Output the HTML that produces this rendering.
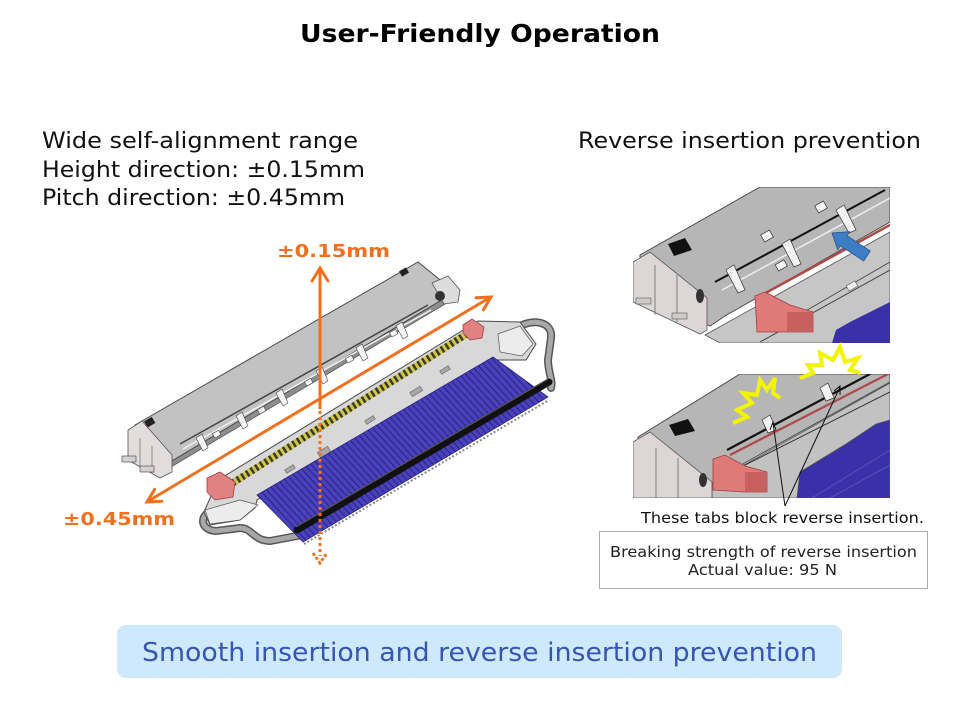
<!DOCTYPE html>
<html>
<head>
<meta charset="utf-8">
<style>
html,body{margin:0;padding:0;background:#fff;}
svg{display:block;}
text{font-family:"DejaVu Sans","Liberation Sans",sans-serif;}
</style>
</head>
<body>
<svg width="960" height="720" viewBox="0 0 960 720" xmlns="http://www.w3.org/2000/svg">
<defs>
  <pattern id="cable" width="5" height="10" patternUnits="userSpaceOnUse" patternTransform="rotate(-42.5)">
    <rect width="5" height="10" fill="#4a42bc"/>
    <rect width="1.2" height="10" fill="#2c258a"/>
  </pattern>
  <clipPath id="c1"><rect x="633" y="187" width="257" height="156"/></clipPath>
  <clipPath id="c2"><rect x="633" y="374" width="257" height="124"/></clipPath>
</defs>

<!-- Title -->
<text x="300" y="42" font-size="25" font-weight="bold" fill="#000" textLength="360" lengthAdjust="spacingAndGlyphs">User-Friendly Operation</text>

<!-- Left text -->
<text x="42" y="148" font-size="22" fill="#111" textLength="316" lengthAdjust="spacingAndGlyphs">Wide self-alignment range</text>
<text x="42" y="177" font-size="22" fill="#111" textLength="323" lengthAdjust="spacingAndGlyphs">Height direction: ±0.15mm</text>
<text x="42" y="205" font-size="22" fill="#111" textLength="303" lengthAdjust="spacingAndGlyphs">Pitch direction: ±0.45mm</text>

<!-- Right heading -->
<text x="578" y="148" font-size="22" fill="#111" textLength="343" lengthAdjust="spacingAndGlyphs">Reverse insertion prevention</text>

<!-- ===== Main illustration ===== -->
<!-- Upper receptacle -->
<polygon points="170,462 455,292 457,297 171,467" fill="#8e8e8e" stroke="#555" stroke-width="0.8"/>
<polygon points="135,425 418,262 455,292 170,462" fill="#c2c2c2" stroke="#4a4a4a" stroke-width="1"/>
<line x1="180" y1="444" x2="428" y2="305" stroke="#444" stroke-width="1.5"/>
<line x1="183" y1="449" x2="431" y2="310" stroke="#f2f2f2" stroke-width="1.5"/>
<g fill="#f4f4f4" stroke="#444" stroke-width="0.6">
  <polygon points="196,438 202,434 208,448 203,451"/>
  <polygon points="236,416 242,412 248,426 243,429"/>
  <polygon points="276,393 282,389 288,403 283,406"/>
  <polygon points="316,371 322,367 328,381 323,384"/>
  <polygon points="356,348 362,344 368,358 363,361"/>
  <polygon points="396,326 402,322 408,336 403,339"/>
  <rect x="213" y="432" width="7" height="5" transform="rotate(-30 216 434)"/>
  <rect x="258" y="408" width="7" height="5" transform="rotate(-30 261 410)"/>
  <rect x="305" y="380" width="7" height="5" transform="rotate(-30 308 382)"/>
  <rect x="346" y="357" width="7" height="5" transform="rotate(-30 349 359)"/>
  <rect x="390" y="331" width="7" height="5" transform="rotate(-30 393 333)"/>
</g>
<rect x="145" y="419" width="9" height="7" fill="#222" transform="rotate(-30 149 422)"/>
<rect x="400" y="269" width="8" height="6" fill="#222" transform="rotate(-30 404 272)"/>
<polygon points="128,430 142,421 172,455 172,472 160,478 128,460" fill="#e2dcdc" stroke="#555" stroke-width="0.8"/>
<line x1="140" y1="438" x2="140" y2="468" stroke="#777" stroke-width="0.8"/>
<line x1="152" y1="446" x2="152" y2="474" stroke="#777" stroke-width="0.8"/>
<rect x="122" y="456" width="14" height="6" fill="#d6d0d0" stroke="#555" stroke-width="0.7"/>
<rect x="140" y="466" width="14" height="6" fill="#d6d0d0" stroke="#555" stroke-width="0.7"/>
<polygon points="432,283 448,276 460,290 458,302 444,304" fill="#dcdcdc" stroke="#555" stroke-width="0.8"/>
<circle cx="440" cy="296" r="5" fill="#333"/>

<!-- Orange diagonal arrow -->
<g stroke="#f07020" stroke-width="3" fill="none" stroke-linecap="round">
  <line x1="150" y1="500" x2="489" y2="298"/>
  <polyline points="476,297.7 491,297 483.4,309.7"/>
  <polyline points="154.6,489.3 147,502 161.8,501.3"/>
</g>

<!-- Plug -->
<path d="M212,510 C199,516 200,530 216,531 L240,528 C252,528 254,541 270,541 L302,535" fill="none" stroke="#555" stroke-width="8" stroke-linecap="round"/>
<path d="M212,510 C199,516 200,530 216,531 L240,528 C252,528 254,541 270,541 L302,535" fill="none" stroke="#a8a8a8" stroke-width="5" stroke-linecap="round"/>
<path d="M518,327 C534,318 553,322 551,338 L548,360 C548,372 553,380 551,388" fill="none" stroke="#555" stroke-width="8" stroke-linecap="round"/>
<path d="M518,327 C534,318 553,322 551,338 L548,360 C548,372 553,380 551,388" fill="none" stroke="#a8a8a8" stroke-width="5" stroke-linecap="round"/>
<polygon points="218,480 478,321 520,322 536,344 526,360 497,360 257,500 255,508 240,520 210,525 204,512" fill="#d8d8d8" stroke="#4a4a4a" stroke-width="1"/>
<polygon points="205,510 240,500 258,505 240,520 210,524" fill="#ececec" stroke="#555" stroke-width="0.7"/>
<polygon points="498,334 520,326 533,344 522,356 500,352" fill="#ececec" stroke="#555" stroke-width="0.7"/>
<line x1="228" y1="486" x2="476" y2="328" stroke="#d0c64a" stroke-width="7"/>
<line x1="228" y1="486" x2="476" y2="328" stroke="#3a3a2a" stroke-width="7" stroke-dasharray="2.5 3"/>
<g fill="#a8a8a8" stroke="#666" stroke-width="0.6">
  <rect x="285" y="467" width="10" height="4" transform="rotate(-32 290 469)"/>
  <rect x="318" y="449" width="12" height="7" transform="rotate(-32 324 452)"/>
  <rect x="365" y="418" width="10" height="4" transform="rotate(-32 370 420)"/>
  <rect x="410" y="389" width="12" height="5" transform="rotate(-32 416 391)"/>
  <rect x="440" y="368" width="10" height="4" transform="rotate(-32 445 370)"/>
</g>
<polygon points="257,495 493,357 548,397 303,542" fill="url(#cable)" stroke="#2a2480" stroke-width="0.8"/>
<line x1="297" y1="530" x2="549" y2="382" stroke="#111" stroke-width="7" stroke-linecap="round"/>
<line x1="296" y1="527" x2="548" y2="379" stroke="#555" stroke-width="1.2"/>
<line x1="304" y1="544" x2="549" y2="400" stroke="#888" stroke-width="2" stroke-dasharray="2 2"/>
<polygon points="207,478 220,472 235,482 233,497 215,500 207,492" fill="#e08282" stroke="#9a4040" stroke-width="0.8"/>
<polygon points="463,325 472,319 484,327 482,338 470,340 463,333" fill="#e08282" stroke="#9a4040" stroke-width="0.8"/>

<!-- Vertical arrow -->
<g stroke="#f07020" stroke-width="3" fill="none">
  <line x1="320" y1="270" x2="320" y2="409"/>
  <polyline points="312,281 320,268 328,281" stroke-linecap="round"/>
  <line x1="320" y1="411" x2="320" y2="556" stroke-dasharray="3 3"/>
  <polyline points="313,553 320,563 327,553" stroke-dasharray="3 2"/>
</g>

<!-- Orange labels -->
<text x="277" y="257" font-size="18" font-weight="bold" fill="#f07020" textLength="113" lengthAdjust="spacingAndGlyphs">±0.15mm</text>
<text x="63" y="525" font-size="18" font-weight="bold" fill="#f07020" textLength="112" lengthAdjust="spacingAndGlyphs">±0.45mm</text>

<!-- ===== Right top image ===== -->
<g clip-path="url(#c1)">
  <rect x="633" y="187" width="257" height="156" fill="#fff"/>
  <polygon points="705,335 890,232 890,343 720,343" fill="#c6c6c6" stroke="#555" stroke-width="0.8"/>
  <line x1="760" y1="342" x2="890" y2="270" stroke="#444" stroke-width="1"/>
  <line x1="790" y1="320" x2="890" y2="262" stroke="#444" stroke-width="0.8"/>
  <rect x="847" y="283" width="10" height="6" fill="#eee" stroke="#555" stroke-width="0.6" transform="rotate(-30 852 286)"/>
  <polygon points="640,255 760,187 890,187 890,222 725,316 710,326 640,300" fill="#b6b6b6" stroke="#4a4a4a" stroke-width="1"/>
  <line x1="715" y1="282" x2="885" y2="190" stroke="#111" stroke-width="2"/>
  <line x1="722" y1="290" x2="890" y2="198" stroke="#eee" stroke-width="1.5"/>
  <g fill="#f2f2f2" stroke="#333" stroke-width="0.7">
    <polygon points="726,270 734,265 745,290 738,293"/>
    <polygon points="782,244 790,239 801,264 794,267"/>
    <polygon points="836,210 844,205 856,230 849,233"/>
    <rect x="762" y="232" width="10" height="8" transform="rotate(-30 767 236)"/>
    <rect x="816" y="203" width="10" height="8" transform="rotate(-30 821 207)"/>
    <rect x="776" y="262" width="10" height="7" transform="rotate(-30 781 265)"/>
  </g>
  <polygon points="668,244 685,238 692,250 674,256" fill="#111"/>
  <polygon points="633,262 650,252 707,298 707,330 700,334 633,302" fill="#ddd6d6" stroke="#555" stroke-width="0.8"/>
  <line x1="655" y1="265" x2="655" y2="315" stroke="#666" stroke-width="0.8"/>
  <line x1="677" y1="275" x2="677" y2="322" stroke="#666" stroke-width="0.8"/>
  <ellipse cx="700" cy="296" rx="4" ry="7" fill="#333"/>
  <rect x="636" y="298" width="15" height="6" fill="#d0caca" stroke="#555" stroke-width="0.6"/>
  <rect x="672" y="313" width="15" height="6" fill="#d0caca" stroke="#555" stroke-width="0.6"/>
  <line x1="760" y1="296" x2="890" y2="225" stroke="#b04848" stroke-width="2.5"/>
  <polygon points="755,296 765,292 790,305 813,312 813,332 787,332 757,332" fill="#e07a78" stroke="#9a4040" stroke-width="0.8"/>
  <rect x="787" y="312" width="26" height="20" fill="#c96060"/>
  <polygon points="832,233 849.7,231.6 846.9,235.7 870.3,251 863.7,261 840.3,245.7 837.6,249.8" fill="#3d7dc6" stroke="#1e4e88" stroke-width="0.7"/>
  <polygon points="836,330 850,322 890,302 890,343 832,343" fill="#3a30a8"/>
</g>

<!-- ===== Right bottom image ===== -->
<g clip-path="url(#c2)">
  <rect x="633" y="374" width="257" height="124" fill="#fff"/>
  <polygon points="712,483 890,383 890,498 712,498" fill="#c2c2c2" stroke="#555" stroke-width="0.8"/>
  <line x1="735" y1="470" x2="890" y2="392" stroke="#333" stroke-width="1"/>
  <polygon points="638,437 740,374 890,374 890,382 725,474 712,484 638,476" fill="#b6b6b6" stroke="#4a4a4a" stroke-width="1"/>
  <line x1="727" y1="450" x2="870" y2="374" stroke="#111" stroke-width="2.2"/>
  <line x1="730" y1="455" x2="890" y2="373" stroke="#b04848" stroke-width="2.2"/>
  <g fill="#f2f2f2" stroke="#333" stroke-width="0.7">
    <polygon points="762,420 770,415 776,430 768,433"/>
    <polygon points="820,388 828,383 834,398 826,401"/>
  </g>
  <polygon points="669,425 688,419 695,431 675,436" fill="#111"/>
  <polygon points="633,442 650,432 712,482 712,498 633,498" fill="#ddd6d6" stroke="#555" stroke-width="0.8"/>
  <line x1="656" y1="448" x2="656" y2="498" stroke="#666" stroke-width="0.8"/>
  <line x1="678" y1="458" x2="678" y2="498" stroke="#666" stroke-width="0.8"/>
  <ellipse cx="703" cy="480" rx="4" ry="7" fill="#333"/>
  <polygon points="713,459 725,455 745,466 767,472 767,492 745,492 713,490" fill="#e07a78" stroke="#9a4040" stroke-width="0.8"/>
  <rect x="745" y="472" width="22" height="20" fill="#c96060"/>
  <polygon points="797,498 800,472 846,444 876,424 890,420 890,498" fill="#3a30a8" stroke="#555" stroke-width="0.8"/>
  <line x1="812" y1="498" x2="890" y2="450" stroke="#5a52c0" stroke-width="1"/>
  <line x1="830" y1="498" x2="890" y2="465" stroke="#5a52c0" stroke-width="1"/>
</g>

<!-- Yellow bursts -->
<polyline points="733,423 747,417 737,410 752,403 743,393 757,395 760,380 767,390 775,378 773,393 780,398" fill="none" stroke="#f4f400" stroke-width="4" stroke-linejoin="miter"/>
<polyline points="800,378 813,373 808,365 822,365 820,353 833,360 840,347 845,362 858,358 850,370 860,373" fill="none" stroke="#f4f400" stroke-width="4" stroke-linejoin="miter"/>

<!-- Leader lines -->
<g stroke="#111" stroke-width="1" fill="none">
  <line x1="785" y1="506" x2="773" y2="423"/>
  <line x1="785" y1="506" x2="840" y2="387"/>
  <polyline points="770,430 773,422 776,430"/>
  <polyline points="834,391 840,386 840,395"/>
</g>

<text x="641" y="523" font-size="15" fill="#111" textLength="283" lengthAdjust="spacingAndGlyphs">These tabs block reverse insertion.</text>

<!-- Box -->
<rect x="599.5" y="531.5" width="328" height="57" fill="#fff" stroke="#aaa" stroke-width="1"/>
<text x="610" y="557" font-size="15" fill="#222" textLength="307" lengthAdjust="spacingAndGlyphs">Breaking strength of reverse insertion</text>
<text x="688" y="575" font-size="15" fill="#222" textLength="149" lengthAdjust="spacingAndGlyphs">Actual value: 95 N</text>

<!-- Banner -->
<rect x="117" y="625" width="725" height="53" rx="9" ry="9" fill="#cde9fb"/>
<text x="142" y="661" font-size="26" fill="#3654b2" textLength="675" lengthAdjust="spacingAndGlyphs">Smooth insertion and reverse insertion prevention</text>
</svg>
</body>
</html>
